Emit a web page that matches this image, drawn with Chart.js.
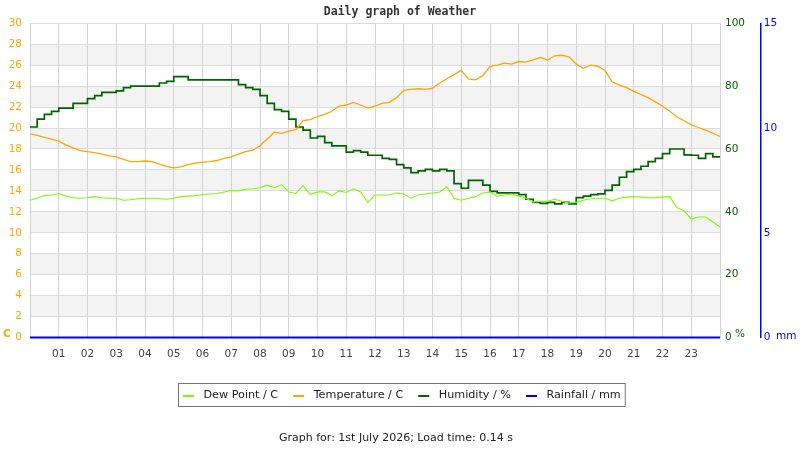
<!DOCTYPE html>
<html><head><meta charset="utf-8">
<script src="https://cdn.jsdelivr.net/npm/chart.js@4.4.0/dist/chart.umd.min.js"></script>
<style>html,body{margin:0;padding:0;background:#fff;}#wrap{width:800px;height:450px;}</style>
</head><body><div id="wrap"><canvas id="c" width="800" height="450"></canvas></div>
<script>
const chartTitle = 'Daily graph of Weather';
const footerText = 'Graph for: 1st July 2026; Load time: 0.14 s';
const hourLabels = ['01','02','03','04','05','06','07','08','09','10','11','12','13','14','15','16','17','18','19','20','21','22','23'];
const times = [
 0,0.25,0.5,0.75, 1,1.25,1.5,1.75, 2,2.25,2.5,2.75, 3,3.25,3.5,3.75,
 4,4.25,4.5,4.75, 5,5.25,5.5,5.75, 6,6.25,6.5,6.75, 7,7.25,7.5,7.75,
 8,8.25,8.5,8.75, 9,9.25,9.5,9.75, 10,10.25,10.5,10.75, 11,11.25,11.5,11.75,
 12,12.25,12.5,12.75, 13,13.25,13.5,13.75, 14,14.25,14.5,14.75, 15,15.25,15.5,15.75,
 16,16.25,16.5,16.75, 17,17.25,17.5,17.75, 18,18.25,18.5,18.75, 19,19.25,19.5,19.75,
 20,20.25,20.5,20.75, 21,21.25,21.5,21.75, 22,22.25,22.5,22.75, 23,23.25,23.5,23.75, 24];
const dewPoint = [
 13.1,13.3,13.55,13.6, 13.75,13.5,13.35,13.3, 13.35,13.45,13.35,13.3, 13.3,13.1,13.15,13.25,
 13.3,13.3,13.25,13.2, 13.3,13.45,13.5,13.55, 13.65,13.7,13.75,13.9, 14.05,14.0,14.15,14.2,
 14.3,14.55,14.3,14.6, 13.9,13.75,14.5,13.65, 13.9,13.9,13.55,14.0, 13.85,14.2,13.9,12.9,
 13.6,13.6,13.6,13.8, 13.7,13.3,13.6,13.7, 13.8,13.9,14.4,13.3, 13.1,13.3,13.45,13.8,
 13.9,13.5,13.6,13.7, 13.5,13.3,12.95,13.0, 13.0,13.2,13.0,12.85, 12.9,13.1,13.25,13.3,
 13.3,13.05,13.3,13.4, 13.45,13.4,13.35,13.35, 13.4,13.45,12.4,12.1, 11.3,11.5,11.5,11.05, 10.55];
const temperature = [
 19.45,19.3,19.1,18.95, 18.75,18.4,18.1,17.85, 17.75,17.65,17.5,17.35, 17.25,17.0,16.8,16.8,
 16.85,16.8,16.55,16.35, 16.2,16.3,16.5,16.65, 16.75,16.8,16.9,17.1, 17.25,17.5,17.75,17.9,
 18.3,18.95,19.6,19.5, 19.7,19.85,20.7,20.8, 21.1,21.3,21.6,22.1, 22.2,22.45,22.2,21.9,
 22.1,22.35,22.45,22.9, 23.6,23.7,23.75,23.7, 23.8,24.3,24.7,25.1, 25.5,24.7,24.6,25.0,
 25.9,26.0,26.2,26.1, 26.35,26.3,26.5,26.75, 26.5,26.9,26.95,26.8, 26.1,25.7,26.0,25.9,
 25.5,24.4,24.1,23.85, 23.5,23.2,22.9,22.5, 22.1,21.6,21.05,20.7, 20.3,20.05,19.8,19.5, 19.2];
const humidity = [
 67,69.5,71,72, 73,73,74.5,74.5, 76,77,78,78, 78.5,79.5,80,80,
 80,80,81,81.5, 83,83,82,82, 82,82,82,82, 82,80.5,79.5,79,
 77,74.5,72.5,72, 69.5,67,66,63.5, 64,62,61,61, 59,59.5,59,58,
 58,57,56.7,55, 54,52.5,53,53.5, 53,53.5,53,49, 47.5,50,50,48.5,
 46.5,46,46,46, 45.5,44,43,42.7, 43,42.5,43,42.5, 44.5,45,45.5,45.7,
 46.8,48.5,51,52.8, 53.5,54.5,56,57, 58.5,60,60,58.1, 58,57,58.5,57.5, 57.2];
const rainTimes = [0, 24];
const rainfall = [0, 0];

const pts = (xs, ys) => xs.map((x, i) => ({x: x, y: ys[i]}));
const FONT = '"DejaVu Sans", sans-serif';

const bandsPlugin = {
  id: 'bands',
  beforeDraw(chart) {
    const {ctx, chartArea: {left, right}, scales: {y}} = chart;
    ctx.save();
    ctx.fillStyle = '#ffffff';
    ctx.fillRect(0, 0, chart.width, chart.height);
    ctx.fillStyle = '#f3f3f3';
    for (let v = 2; v < 30; v += 4) {
      const t = y.getPixelForValue(v + 2), b = y.getPixelForValue(v);
      ctx.fillRect(left, t, right - left, b - t);
    }
    ctx.restore();
  },
  afterDraw(chart) {
    const ctx = chart.ctx;
    ctx.save();
    ctx.textBaseline = 'alphabetic';
    ctx.font = 'bold 10.5px ' + FONT;
    ctx.fillStyle = '#ffa500';
    ctx.textAlign = 'left';
    ctx.fillText('C', 3, 337);
    ctx.font = '10.5px ' + FONT;
    ctx.fillStyle = '#006400';
    ctx.fillText('%', 735, 336.5);
    ctx.fillStyle = '#0000ff';
    ctx.fillText('mm', 776, 338.5);
    const items = chart.data.datasets.map(d => ({text: d.label, color: d.borderColor}));
    ctx.font = '11.2px ' + FONT;
    const widths = items.map(it => ctx.measureText(it.text).width);
    const marker = 11, gap = 9.5, sep = 15, padX = 4.5;
    let total = padX * 2 + sep * (items.length - 1);
    widths.forEach(w => total += marker + gap + w);
    const bx = Math.round(401 - total / 2) + 0.5, by = 383.5, bh = 23;
    ctx.strokeStyle = '#777777';
    ctx.lineWidth = 1;
    ctx.strokeRect(bx, by, total, bh);
    let x = bx + padX;
    const cy = by + bh / 2;
    items.forEach((it, i) => {
      ctx.strokeStyle = it.color;
      ctx.lineWidth = 2;
      ctx.beginPath();
      ctx.moveTo(x, cy + 1); ctx.lineTo(x + marker, cy + 1);
      ctx.stroke();
      x += marker + gap;
      ctx.fillStyle = '#222222';
      ctx.textBaseline = 'middle';
      ctx.fillText(it.text, x, cy);
      x += widths[i] + sep;
    });
    ctx.font = '11px ' + FONT;
    ctx.textAlign = 'center';
    ctx.fillStyle = '#222222';
    ctx.fillText(footerText, 396, 438);
    ctx.restore();
  }
};

new Chart(document.getElementById('c'), {
  type: 'line',
  data: {
    datasets: [
      {label: 'Dew Point / C', data: pts(times, dewPoint), borderColor: '#7cfc00', borderWidth: 1.1, yAxisID: 'y', pointRadius: 0, tension: 0},
      {label: 'Temperature / C', data: pts(times, temperature), borderColor: '#ffa500', borderWidth: 1.3, yAxisID: 'y', pointRadius: 0, tension: 0},
      {label: 'Humidity / %', data: pts(times, humidity), borderColor: '#006400', borderWidth: 1.7, yAxisID: 'yH', pointRadius: 0, stepped: 'before'},
      {label: 'Rainfall / mm', data: pts(rainTimes, rainfall), borderColor: '#0000ff', borderWidth: 2, yAxisID: 'yR', pointRadius: 0, clip: 4}
    ]
  },
  options: {
    responsive: false,
    animation: false,
    devicePixelRatio: 1,
    layout: {padding: {left: 0, right: 0, top: 0, bottom: 92.5}},
    plugins: {
      legend: {display: false},
      tooltip: {enabled: false},
      title: {display: true, text: chartTitle, color: '#333333', font: {family: '"DejaVu Sans Mono", monospace', size: 11.5, weight: 'bold', lineHeight: 1.2}, padding: {top: 5, bottom: 4.5}}
    },
    scales: {
      x: {
        type: 'linear', min: 0, max: 24,
        ticks: {stepSize: 1, autoSkip: false, maxRotation: 0, color: '#444444', font: {family: FONT, size: 10.5}, padding: 10,
          callback: v => (v >= 1 && v <= 23) ? hourLabels[v - 1] : ''},
        grid: {color: '#d3d3d3', drawTicks: false},
        border: {display: true, color: '#d3d3d3'},
        afterFit: s => { s.height = 20; }
      },
      y: {
        position: 'left', min: 0, max: 30,
        ticks: {stepSize: 2, color: '#ffa500', font: {family: FONT, size: 10.5}, padding: 8},
        grid: {color: '#dcdcdc', drawTicks: false},
        border: {display: true, color: '#d3d3d3'},
        afterFit: s => { s.width = 30; }
      },
      yH: {
        position: 'right', weight: 1, min: 0, max: 100,
        ticks: {stepSize: 20, color: '#006400', font: {family: FONT, size: 10.5}, padding: 5},
        grid: {display: false, drawTicks: false},
        border: {display: false},
        afterFit: s => { s.width = 40.7; }
      },
      yR: {
        position: 'right', weight: 2, min: 0, max: 15,
        ticks: {stepSize: 5, color: '#0000ff', font: {family: FONT, size: 10.5}, padding: 3},
        grid: {display: false, drawTicks: false},
        border: {display: true, color: '#0000ff', width: 1.5},
        afterFit: s => { s.width = 39.3; }
      }
    }
  },
  plugins: [bandsPlugin]
});
</script></body></html>
